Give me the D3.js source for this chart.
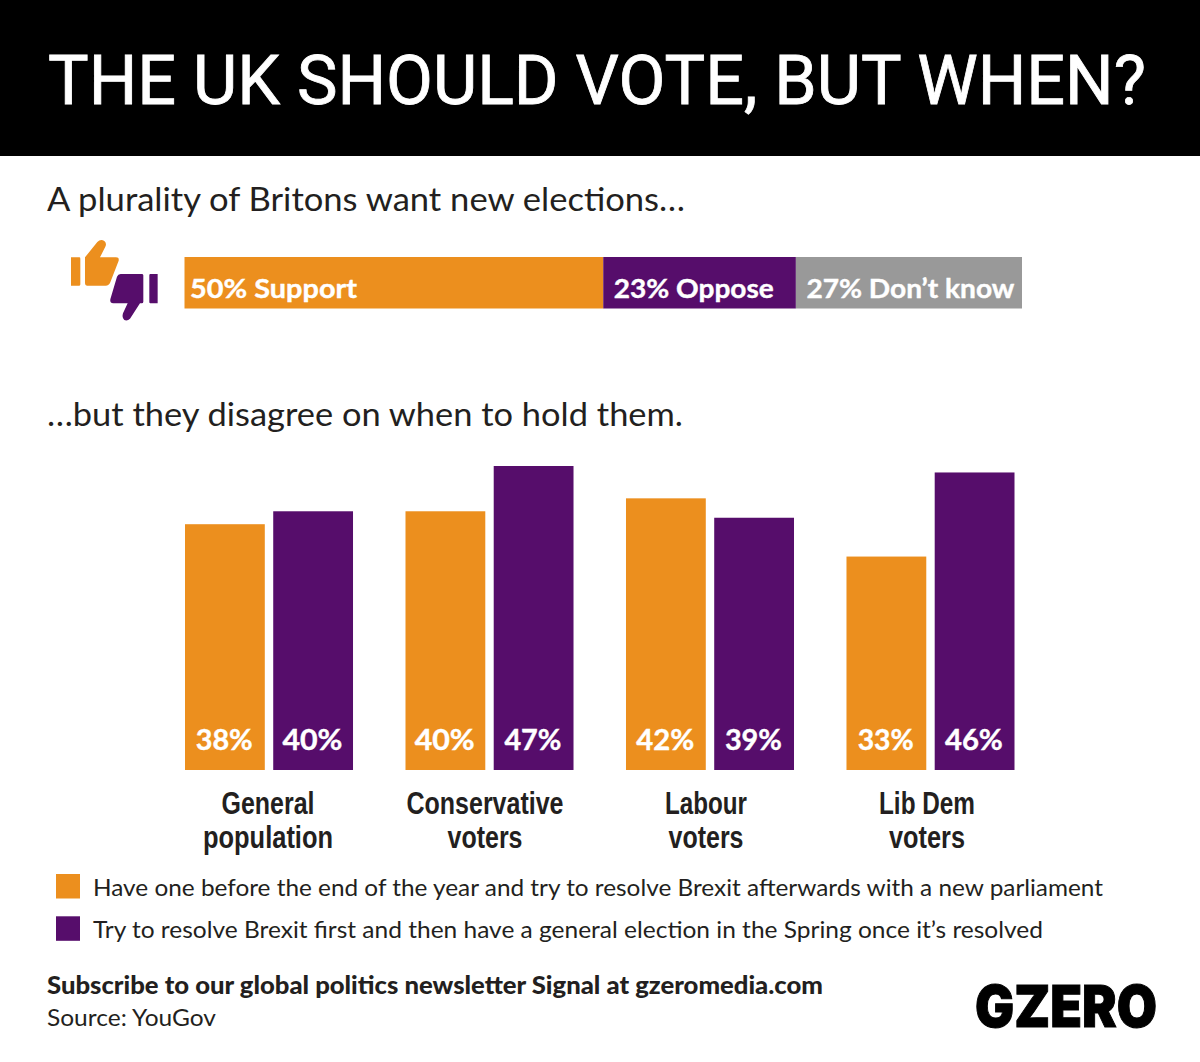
<!DOCTYPE html>
<html>
<head>
<meta charset="utf-8">
<script src="https://d3js.org/d3.v7.min.js"></script>
<style>
html, body { margin: 0; padding: 0; background: #fff; }
svg { display: block; }
text { font-family: Lato, sans-serif; fill: #231f20; }
</style>
</head>
<body>
<svg id="chart" width="1200" height="1062"></svg>
<script>
// top bar
var share_labels = ["Support", "Oppose", "Don\u2019t know"];
var share_values = [50, 23, 27];
var share_colors = ["#ec8f1e", "#560d6b", "#999999"];

// grouped bars
var groups = ["General population", "Conservative voters", "Labour voters", "Lib Dem voters"];
var end_of_year = [38, 40, 42, 33];
var in_spring = [40, 47, 39, 46];

var legend_labels = [
    "Have one before the end of the year and try to resolve Brexit afterwards with a new parliament",
    "Try to resolve Brexit first and then have a general election in the Spring once it\u2019s resolved"
];
var bar_colors = ["#ec8f1e", "#560d6b"];

var chart = d3.select("#chart");

// fits a line to the width it has in the reference
function put(x, y, str, size, width, weight, family, anchor, fill){
    var t = chart.append("text")
        .attr("x", x)
        .attr("y", y)
        .attr("font-size", size)
        .attr("font-weight", weight || 400)
        .attr("text-anchor", anchor || "start")
        .text(str);
    if(family) t.style("font-family", family);
    if(fill) t.style("fill", fill);
    if(width) t.attr("textLength", width).attr("lengthAdjust", "spacingAndGlyphs");
    return t;
}

// header
chart.append("rect")
    .attr("width", 1200)
    .attr("height", 156)
    .attr("fill", "#000");
put(48, 104, "THE UK SHOULD VOTE, BUT WHEN?", 68, 1098, 400, "Roboto", "start", "#fff")
    .style("stroke", "#fff").style("stroke-width", 0.8);

put(47, 211, "A plurality of Britons want new elections\u2026", 33, 638);
put(47, 426, "\u2026but they disagree on when to hold them.", 33, 636);

// stacked bar
var x_share = d3.scaleLinear().domain([0, 100]).range([184.5, 1022]);
var running = 0;
var share_text_dx = [5.5, 10.5, 10.5];
var share_text_w = [167, 160, 208];
for (var i = 0; i < share_values.length; i++){
    chart.append("rect")
        .attr("x", x_share(running))
        .attr("y", 257)
        .attr("width", x_share(running + share_values[i]) - x_share(running))
        .attr("height", 51.5)
        .attr("fill", share_colors[i]);
    put(x_share(running) + share_text_dx[i], 298, share_values[i] + "% " + share_labels[i], 27, share_text_w[i], 700, null, "start", "#fff")
        .style("stroke", "#fff").style("stroke-width", 0.4);
    running += share_values[i];
}

// thumbs, drawn in the coordinates of a 3x crop
var icons = chart.append("g").attr("transform", "translate(40,230) scale(0.3333)");
icons.append("path")
    .attr("fill", bar_colors[0])
    .attr("d", "M93,82H118Q121,82 121,86V163Q121,167 118,167H93Z M135,82L172,36Q182,26 193,33Q201,40 196,50L180,82H228Q238,82 236,92L211,157Q207,167 197,167H141Q135,167 135,160Z");
icons.append("path")
    .attr("fill", bar_colors[1])
    .attr("d", "M353,132H331Q328,132 328,136V216Q328,220 331,220H353Z M310,136Q310,132 305,132H242Q234,132 231,140L211,208Q209,220 220,220H263L249,250Q245,262 253,270Q262,274 270,266L300,220H305Q310,220 310,215Z");

// grouped bars
var y = d3.scaleLinear().domain([0, 47]).range([770, 466]);
var x0 = d3.scaleBand().domain(groups).range([185, 1014.5]).paddingInner(0.238).paddingOuter(0);
var x1 = d3.scaleBand().domain([0, 1]).range([0, x0.bandwidth()]).paddingInner(0.0955);

var series = [end_of_year, in_spring];
var value_w = [[57, 60], [60, 57], [58, 57], [56, 58]];
groups.forEach(function(g, i){
    series.forEach(function(values, s){
        var bx = x0(g) + x1(s);
        chart.append("rect")
            .attr("x", bx)
            .attr("y", y(values[i]))
            .attr("width", x1.bandwidth())
            .attr("height", y(0) - y(values[i]))
            .attr("fill", bar_colors[s]);
        put(bx + x1.bandwidth() / 2 - 0.7, 749.5, values[i] + "%", 28, value_w[i][s], 700, null, "middle", "#fff")
            .style("stroke", "#fff").style("stroke-width", 0.4);
    });
});

// group names are split on the last space
var name_x = [268, 485, 706, 927];
var name_w = [[93, 130], [157, 75], [82, 75], [96, 76]];
groups.forEach(function(g, i){
    var cut = g.lastIndexOf(" ");
    [g.slice(0, cut), g.slice(cut + 1)].forEach(function(part, k){
        put(name_x[i], 814 + k * 34, part, 31, name_w[i][k], 700, "'Liberation Sans'", "middle");
    });
});

// legend
var legend_w = [1010, 950];
legend_labels.forEach(function(l, i){
    chart.append("rect")
        .attr("x", 56)
        .attr("y", 874 + i * 42.3)
        .attr("width", 24)
        .attr("height", 24.5)
        .attr("fill", bar_colors[i]);
    put(93, 896 + i * 42, l, 23, legend_w[i]);
});

// footer
put(47, 994, "Subscribe to our global politics newsletter Signal at gzeromedia.com", 24, 776, 900);
put(47, 1026, "Source: YouGov", 24, 169);
put(975, 1027, "GZERO", 58, 182, 900, "Inter", "start", "#000").style("stroke", "#000").style("stroke-width", 1);
</script>
</body>
</html>
